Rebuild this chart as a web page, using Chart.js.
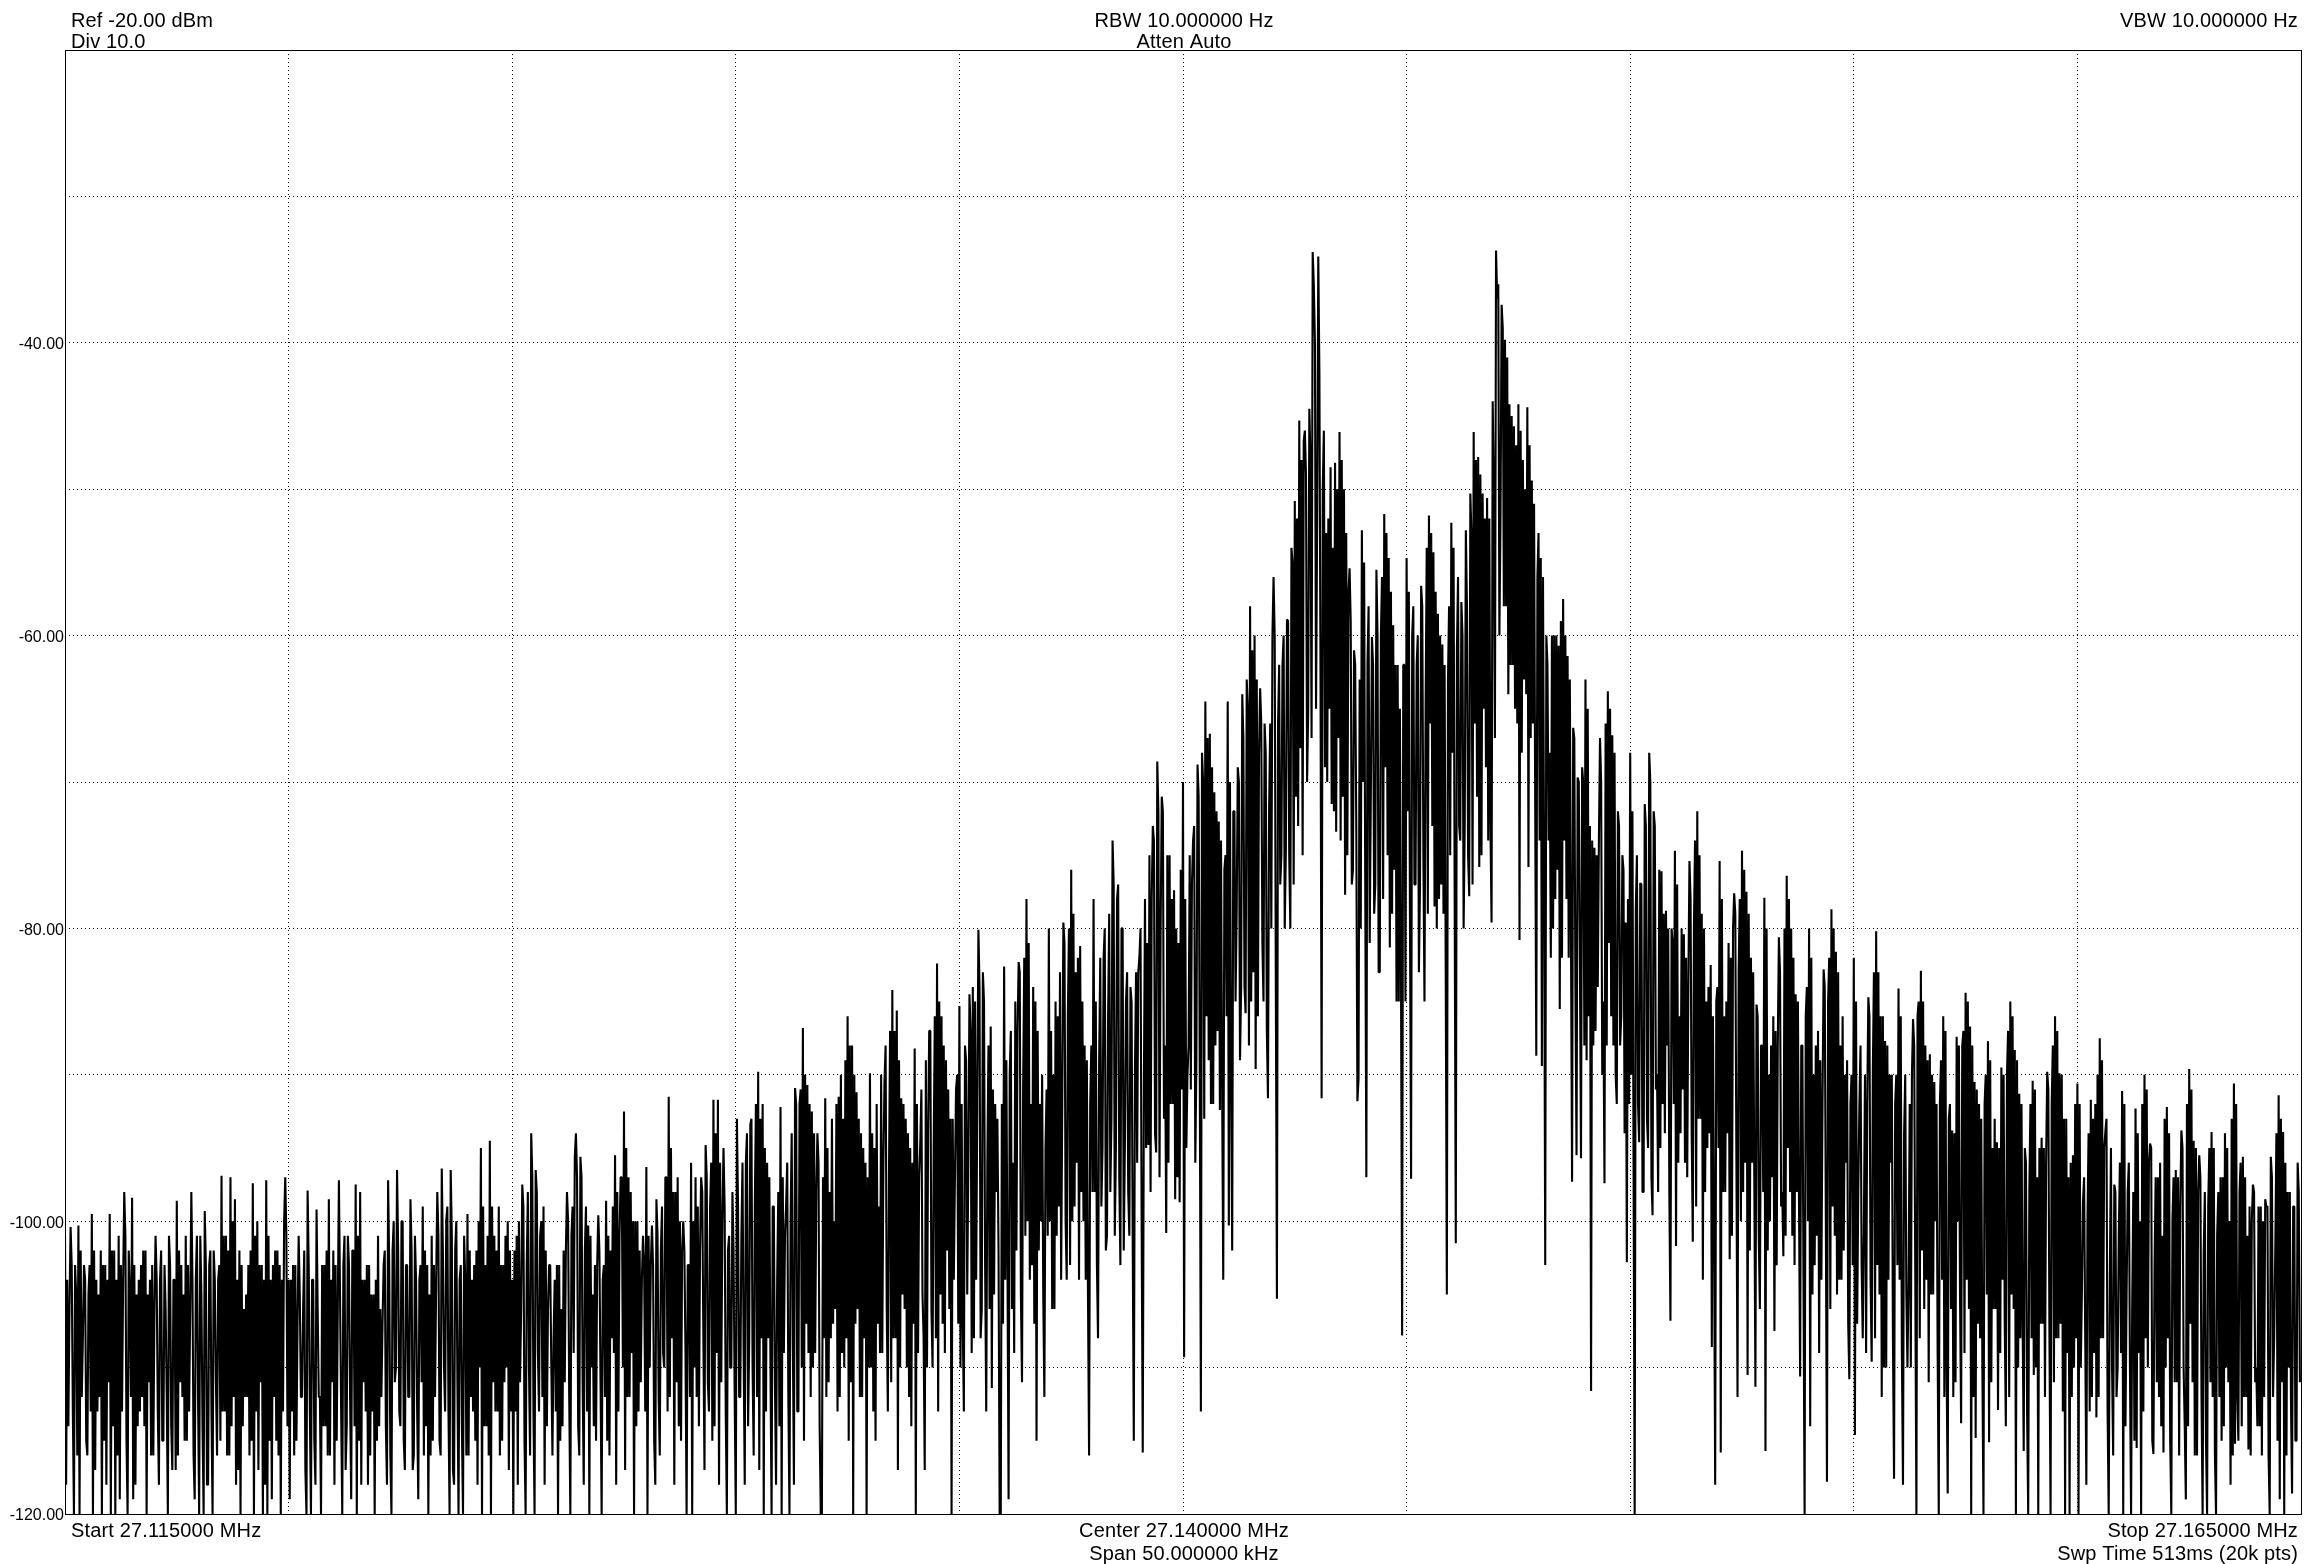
<!DOCTYPE html>
<html>
<head>
<meta charset="utf-8">
<title>Spectrum trace</title>
<script src="https://cdn.jsdelivr.net/npm/chart.js@4"></script>
<style>
  html, body { margin: 0; padding: 0; background: #fff; }
  canvas { display: block; }
</style>
</head>
<body>
<canvas id="Chart1" width="2322" height="1564"></canvas>
<script>
// trace, one list per horizontal grid division (dBm)
// peaks and dips that can be seen one by one
const div1 = [-101,-118,-106,-100.4,-120,-103,-100.3,-120,-108,-103,-116,-105,-99.5,-120,-104,-113,-102,-120,-103,-118,-99.5,-120,-102,-120,-101,-119,-104,-98,-120,-102,-98.4,-119,-105,-114,-103,-112,-102,-120,-104,-116,-106,-101,-118,-104,-115,-103,-120,-101,-117,-104,-98.6,-116,-103,-112,-101,-115,-106,-98,-119,-104,-120,-101,-120,-99.3,-118,-103,-120,-102,-116,-104,-96.9,-113,-101,-116,-97,-114,-98.5,-118,-102,-120,-106,-112,-103,-116,-97.4,-120,-100,-117,-103,-120,-97.2,-120,-104,-119,-102,-115,-103,-120,-100,-97]
const div2 = [-104,-119,-103,-116,-107,-101,-112,-106,-120,-97.9,-120,-104,-118,-99.2,-112,-120,-103,-114,-98.5,-116,-102,-118,-106,-97.2,-120,-103,-114,-101,-119,-102,-97.5,-120,-98,-118,-104,-113,-103,-116,-105,-120,-101,-114,-107,-103,-118,-97.2,-120,-102,-110,-96.5,-114,-100,-117,-103,-112,-98.5,-116,-101,-119,-104,-99,-116,-103,-120,-101,-115,-104,-98,-116,-96.4,-113,-100,-120,-96.5,-118,-102,-120,-104,-120,-101,-99.5,-116,-104,-113,-102,-118,-95,-120,-103,-114,-94.5,-120,-101,-113,-99,-116,-103,-111,-100,-117]
const div3 = [-104,-120,-101,-118,-106,-97.5,-120,-103,-116,-94,-120,-96.5,-113,-101,-99,-118,-106,-103,-116,-108,-103,-120,-106,-114,-102,-98,-120,-101,-95.6,-94,-116,-95.6,-118,-102,-100.3,-120,-105,-114,-103,-99.6,-120,-104,-98.6,-115,-102,-108,-95.5,-118,-101,-97,-92.5,-117,-97,-112,-100,-120,-100,-113,-104,-101,-96.3,-120,-103,-100.3,-118,-98.5,-116,-102,-110,-97,-91.5,-112,-98,-118,-97,-114,-102,-100,-120,-103,-96,-120,-97,-112,-102,-97,-117,-94.8,-113,-99,-91.7,-114,-91.7,-118,-100,-95,-120,-102,-110,-98]
const div4 = [-120,-93,-112,-101,-118,-96,-108,-93.4,-116,-99,-89.8,-117,-92,-120,-96,-108,-120,-99,-118,-104,-92.2,-120,-101,-98.9,-120,-100,-118,-90.9,-113,-92,-86.8,-115,-90.7,-109,-92.5,-110,-98,-94,-120,-120,-91.6,-112,-98,-108,-100,-106,-91.5,-112,-93,-110,-86,-115,-88,-120,-91.2,-106,-94,-112,-96,-120,-89.9,-110,-95,-115,-99,-109,-96,-90.5,-113,-97,-84.2,-108,-85.6,-117,-91.6,-105,-93,-110,-95,-114,-88.2,-120,-97,-94.7,-108,-117,-94,-87,-110,-95,-82.4,-113,-86,-107,-89,-102,-93,-120,-97,-91]
const div5 = [-85.3,-110,-113,-88,-96,-84.5,-84,-108,-92,-80.1,-106,-83,-113,-96,-86.7,-111.4,-92,-98,-120,-120,-82.6,-104,-119,-90,-96,-109,-87,-82.3,-111,-91,-78,-100,-92,-103,-85,-115,-92,-100,-112,-95,-80,-100,-90,-106,-86,-99,-92,-79.6,-104,-86,-76,-100,-83,-96,-81.2,-98,-88,-104,-116,-92,-78,-98,-108,-89,-95,-82,-101,-86,-93,-74,-95,-78,-103,-80,-95,-85,-101,-84,-115,-90,-83,-82,-115.8,-91,-81,-94.8,-78,-73,-95.3,-68.6,-80,-71,-88,-100.8,-75,-92,-77.4,-98.5,-81,-98.7]
const div6 = [-70,-109.3,-90,-88,-77,-74,-89,-68.8,-113,-68,-64.5,-86,-66.7,-92,-70.7,-88,-72.7,-92.4,-104,-76,-64.5,-100.3,-102,-72,-79,-69,-84,-64,-85.8,-63,-58,-85,-60,-89.6,-68,-63.6,-85,-66,-91.6,-72,-60,-56,-105.3,-66,-75,-62,-74.7,-58.9,-80,-54,-50.8,-71,-45.3,-67.7,-46.7,-46,-65,-44.5,-33.8,-36,-52,-34.1,-91.6,-50,-53,-70,-48.5,-71.5,-48.2,-73.4,-46.1,-74,-50,-77.7,-57,-55.4,-76,-61,-91.8,-90.3,-52.8,-70,-97,-62,-71,-60.1,-77,-55.5,-83,-60,-51.7,-69,-54.7,-81.3,-59.3,-76,-62,-85,-107.8,-62]
const div7 = [-54.7,-72,-97.1,-60,-77,-62,-77,-56.6,-85,-65,-51.8,-66,-54.3,-78.5,-58.5,-78,-60.6,-79,-105,-63,-52.3,-68,-101.5,-61,-74,-57.7,-73,-52.8,-77.8,-50.3,-46.1,-66,-47.8,-75.8,-50.3,-65,-50.6,-74,-79.6,-44,-33.7,-37,-52,-37.4,-39.8,-58,-44.2,-62,-45.7,-65,-44.2,-80.8,-48,-63,-44.4,-75.8,-49.4,-66,-88.7,-56,-54.7,-89.4,-103,-60,-68,-82,-60,-78,-60.7,-85.5,-57.5,-74,-61.4,-82,-97.3,-66.3,-95.5,-69.7,-95.7,-69,-63,-89,-73,-111.6,-74.5,-87,-74,-67,-85,-97.4,-63.8,-81,-66.8,-88,-92,-72,-86,-75,-79.6,-102.8]
const div8 = [-68,-90,-120,-78.7,-94.6,-76.9,-98,-71.5,-95,-68,-99.6,-72,-90,-98,-76.1,-92,-78.8,-88,-106.8,-80,-74.7,-101.7,-86,-94,-80.4,-96,-84,-75.4,-101.4,-80,-72,-93,-79,-104,-85,-95,-82.5,-108.6,-118,-85,-75.4,-115.8,-86,-98,-81,-102.6,-80,-77.6,-112,-83,-74.7,-98,-77.5,-110.5,-82,-96,-111.3,-85.2,-106,-88,-77.9,-115.7,-90,-100,-86,-107.5,-88,-80.6,-98,-102.4,-76.4,-95,-80,-101,-84.5,-98,-110.6,-88,-120,-86,-80,-114,-90,-103,-87,-109,-92,-82.8,-117.8,-85,-78.7,-99,-81.6,-105,-88,-104,-90,-96,-110.8,-92]
const div9 = [-82,-114.6,-98,-92.1,-108,-100.5,-92,-84.7,-109.6,-90,-80.2,-103,-86,-112,-87.7,-110,-90,-96,-117.6,-92,-84.1,-104,-118,-94,-110,-104,-90,-86.2,-120,-86,-82.9,-102,-88,-104,-88.6,-105,-90.5,-100,-120,-92,-86,-112,-118.6,-93,-93.8,-112,-87.4,-100,-113.8,-88,-84.4,-104,-86.7,-120,-90.5,-114.8,-92,-108,-120,-92,-87.7,-115.1,-95,-106,-94.6,-112.9,-89.5,-104,-114,-90,-85,-105,-88.3,-120,-91.3,-108,-115.7,-95,-120,-98,-90.4,-110.5,-97,-120,-94.3,-107,-96,-89.8,-120,-92,-86,-108,-89.9,-107,-93,-120,-97,-120,-95.5,-110]
const div10 = [-90.6,-120,-105,-98.7,-118,-100,-91.7,-112,-92,-113.4,-87.5,-108,-95,-93.9,-120,-104,-116,-97.5,-110,-101,-91.1,-120,-105,-98,-120,-106,-92.3,-115.5,-100,-120,-90,-108,-96,-94.7,-115.9,-103,-97,-112,-101,-115.8,-92.2,-108,-120,-100,-96.5,-111,-99,-93.8,-114,-119,-89.6,-107,-94.5,-116,-98,-95.5,-120,-102,-120,-99,-93.9,-112,-120,-101,-97,-115,-94,-110,-100,-118,-90.6,-115.2,-115,-98,-95.6,-112,-101,-115.6,-100,-97.5,-110,-114,-99,-116,-98.5,-99,-120,-95.6,-108,-102,-91.4,-119,-93.9,-120,-98,-110,-118.6,-99,-115,-96]

// samples inside the solid black body of the trace, top and bottom in turn
const body1 = [-104,-114,-103,-113,-105,-116,-102,-112,-104,-115,-103,-113,-102,-117,-105,-112,-103,-115,-104,-111,-102,-114,-104,-116,-103,-113,-101,-115,-105,-112,-103,-118,-104,-113,-102,-114,-105,-111,-103,-116,-104,-113,-102,-115,-106,-112,-103,-114,-104,-117,-102,-111,-105,-115,-103,-113,-104,-116,-101,-112,-105,-114,-103,-118,-102,-113,-104,-111,-103,-115,-101,-113,-102,-116,-100,-112,-104,-117,-103,-114,-105,-112,-102,-115,-101,-113,-103,-111,-104,-118,-101,-115,-103,-112,-102,-116,-104,-113,-101,-114]
const body2 = [-104,-113,-103,-115,-105,-112,-102,-117,-103,-113,-104,-115,-106,-112,-103,-114,-102,-116,-104,-111,-103,-115,-105,-113,-101,-117,-103,-112,-102,-114,-101,-115,-104,-111,-103,-118,-105,-113,-104,-115,-106,-112,-102,-114,-103,-116,-100,-111,-102,-113,-100,-115,-103,-112,-102,-117,-104,-113,-103,-111,-102,-114,-105,-116,-103,-112,-101,-115,-102,-110,-99,-113,-101,-117,-100,-111,-103,-114,-104,-116,-102,-112,-103,-115,-100,-110,-99,-114,-101,-116,-99,-111,-102,-113,-103,-115,-101,-110,-102,-113]
const body3 = [-102,-113,-100,-111,-99,-115,-98,-110,-97,-113,-98,-109,-100,-112,-102,-114,-103,-110,-104,-113,-103,-115,-102,-111,-100,-112,-99,-109,-97,-114,-97,-111,-99,-113,-101,-110,-103,-115,-102,-111,-103,-112,-101,-116,-99,-109,-98,-113,-97,-110,-95,-112,-98,-109,-100,-114,-102,-111,-103,-113,-101,-110,-103,-115,-101,-112,-99,-109,-97,-113,-95,-108,-98,-111,-100,-115,-102,-109,-103,-112,-100,-110,-99,-114,-98,-108,-97,-111,-96,-115,-94,-109,-96,-111,-99,-113,-101,-110,-102,-112]
const body4 = [-99,-112,-96,-109,-94,-114,-93,-110,-92,-112,-93,-108,-95,-113,-97,-110,-99,-111,-98,-114,-97,-109,-96,-112,-94,-108,-92,-113,-91,-110,-90,-107,-92,-112,-94,-109,-96,-114,-97,-108,-95,-111,-93,-107,-92,-113,-90,-109,-89,-108,-88,-111,-90,-107,-93,-112,-95,-108,-97,-110,-94,-113,-92,-107,-90,-109,-88,-106,-87,-111,-87,-108,-89,-110,-92,-106,-94,-112,-96,-107,-92,-109,-91,-105,-89,-110,-87,-106,-86,-108,-85,-105,-88,-109,-91,-106,-93,-104,-90,-107]
const body5 = [-92,-107,-89,-105,-87,-109,-85,-104,-84,-108,-85,-103,-88,-106,-91,-105,-93,-102,-92,-107,-89,-103,-87,-106,-85,-102,-83,-105,-82,-101,-81,-104,-84,-107,-87,-102,-90,-105,-91,-101,-87,-106,-85,-101,-83,-104,-81,-100,-80,-103,-79,-99,-82,-104,-85,-100,-89,-105,-88,-98,-85,-103,-82,-99,-80,-102,-79,-98,-77,-101,-77,-97,-80,-102,-83,-98,-85,-101,-83,-96,-80,-100,-78,-95,-75,-98,-74,-94,-72,-97,-72,-93,-75,-96,-78,-92,-80,-97,-76,-91]
const body6 = [-78,-95,-75,-91,-73,-96,-71,-90,-70,-93,-67,-89,-69,-92,-72,-87,-74,-91,-75,-86,-70,-90,-72,-85,-70,-89,-67,-84,-65,-88,-61,-83,-63,-86,-66,-81,-68,-87,-66,-80,-60,-83,-62,-77,-60,-80,-59,-75,-55,-77,-52,-73,-48,-75,-49,-70,-48,-67,-40,-65,-42,-63,-46,-69,-52,-65,-54,-72,-50,-67,-48,-71,-53,-75,-59,-77,-62,-73,-63,-80,-55,-77,-58,-81,-62,-79,-60,-83,-56,-78,-53,-75,-57,-79,-62,-85,-65,-83,-62,-85]
const body7 = [-57,-79,-58,-77,-60,-83,-58,-75,-54,-79,-53,-73,-57,-80,-60,-77,-62,-83,-58,-75,-54,-78,-56,-73,-60,-80,-58,-75,-53,-77,-48,-71,-49,-75,-52,-69,-52,-73,-50,-67,-36,-60,-39,-58,-41,-64,-45,-62,-47,-66,-46,-68,-50,-64,-47,-67,-51,-71,-53,-74,-56,-76,-62,-74,-60,-80,-60,-76,-59,-82,-60,-78,-63,-80,-67,-84,-70,-82,-70,-88,-65,-86,-74,-88,-75,-84,-70,-90,-66,-88,-65,-86,-68,-90,-73,-88,-76,-94,-78,-92]
const body8 = [-72,-96,-75,-92,-77,-98,-73,-93,-70,-97,-73,-91,-76,-95,-79,-94,-80,-98,-81,-92,-77,-96,-80,-91,-82,-97,-78,-94,-74,-99,-75,-93,-80,-98,-84,-94,-86,-100,-84,-95,-78,-98,-85,-94,-82,-101,-79,-96,-78,-100,-76,-96,-79,-102,-83,-97,-86,-101,-88,-98,-80,-102,-88,-97,-87,-103,-83,-99,-80,-101,-78,-98,-82,-103,-85,-99,-88,-104,-84,-100,-82,-105,-88,-101,-89,-104,-84,-100,-82,-106,-80,-101,-83,-104,-86,-102,-89,-107,-90,-103]
const body9 = [-85,-107,-88,-103,-90,-109,-86,-104,-83,-108,-83,-105,-86,-110,-88,-104,-90,-108,-90,-103,-86,-109,-90,-105,-92,-110,-88,-104,-85,-108,-85,-106,-89,-111,-90,-105,-92,-109,-89,-104,-87,-110,-92,-106,-94,-111,-88,-105,-87,-109,-85,-106,-88,-112,-91,-107,-93,-110,-90,-105,-89,-111,-93,-106,-95,-109,-90,-107,-87,-112,-86,-106,-89,-110,-92,-107,-96,-113,-92,-108,-91,-110,-95,-107,-95,-112,-91,-108,-88,-111,-87,-108,-90,-113,-93,-109,-96,-112,-92,-108]
const body10 = [-92,-110,-97,-108,-94,-113,-93,-109,-90,-112,-89,-108,-93,-113,-95,-110,-98,-112,-96,-109,-92,-114,-96,-110,-98,-115,-94,-109,-92,-113,-91,-110,-95,-115,-97,-111,-96,-114,-93,-110,-94,-115,-97,-111,-97,-116,-95,-110,-92,-114,-91,-111,-95,-116,-97,-112,-98,-115,-95,-111,-95,-116,-98,-112,-97,-114,-95,-111,-93,-116,-92,-112,-96,-114,-97,-112,-99,-116,-98,-111,-99,-114,-100,-112,-99,-116,-97,-112,-94,-115,-93,-111,-96,-116,-98,-112,-99,-115,-98,-111]

const divisions = [div1, div2, div3, div4, div5, div6, div7, div8, div9, div10]
const bodies = [body1, body2, body3, body4, body5, body6, body7, body8, body9, body10]

const freq_start = 27.115
const freq_stop = 27.165
const level_ticks = [-20, -30, -40, -50, -60, -70, -80, -90, -100, -110, -120]
const level_labels = [-40, -60, -80, -100, -120]

const top_left = ["Ref -20.00 dBm", "Div 10.0"]
const top_center = ["RBW 10.000000 Hz", "Atten Auto"]
const top_right = ["VBW 10.000000 Hz"]
const bottom_left = ["Start 27.115000 MHz"]
const bottom_center = ["Center 27.140000 MHz", "Span 50.000000 kHz"]
const bottom_right = ["Stop 27.165000 MHz", "Swp Time 513ms (20k pts)"]

const div_width = (freq_stop - freq_start) / divisions.length

// two samples from each list in turn, so the trace keeps swinging up and down
function weave (list, body) {
    let result = []
    for (let i = 0; i < list.length; i += 2) {
        result.push(...list.slice(i, i + 2), ...body.slice(i, i + 2))
    }
    return result
}

const points = divisions.flatMap((list, d) => {
    const woven = weave(list, bodies[d])
    return woven.map((y, i) => {
        return {x: freq_start + (d + i / woven.length) * div_width, y: y}
    })
})

const freq_ticks = divisions.map((_, d) => freq_start + d * div_width).concat([freq_stop])

const frameAndText = {
    id: "frameAndText",
    afterDraw(chart) {
        const ctx = chart.ctx
        const area = chart.chartArea
        const mid = (area.left + area.right) / 2 + 1

        ctx.save()
        ctx.strokeStyle = "#000"
        ctx.lineWidth = 1
        ctx.strokeRect(Math.floor(area.left) + 0.5, Math.floor(area.top) + 0.5,
            Math.round(area.right - area.left), Math.round(area.bottom - area.top))

        ctx.fillStyle = "#000"
        ctx.font = "20px 'Liberation Sans'"
        ctx.letterSpacing = "0.15px"
        ctx.textBaseline = "alphabetic"

        function rows (list, x, align, y, step) {
            ctx.textAlign = align
            list.forEach((t, i) => ctx.fillText(t, x, y + i * step))
        }

        rows(top_left, area.left + 6, "left", 27, 21)
        rows(top_center, mid, "center", 27, 21)
        rows(top_right, area.right - 3, "right", 27, 21)
        rows(bottom_left, area.left + 6, "left", 1537, 23)
        rows(bottom_center, mid, "center", 1537, 23)
        rows(bottom_right, area.right - 3, "right", 1537, 23)
        ctx.restore()
    }
}

const ex1 = document.getElementById("Chart1")

new Chart(ex1, {
    type: "line",
    data: {
        datasets: [
            {
                label: "Trace",
                data: points,
                borderColor: "#000",
                borderWidth: 2.1,
                borderJoinStyle: "bevel",
                pointRadius: 0,
                tension: 0
            }
        ]
    },
    options: {
        responsive: false,
        animation: false,
        parsing: false,
        normalized: true,
        layout: { padding: { top: 50, right: 21, left: 0, bottom: 0 } },
        plugins: {
            legend: { display: false },
            tooltip: { enabled: false }
        },
        scales: {
            x: {
                type: "linear",
                min: freq_start,
                max: freq_stop,
                afterBuildTicks: (scale) => {
                    scale.ticks = freq_ticks.map((v) => ({value: v}))
                },
                afterFit: (scale) => { scale.height = 50 },
                ticks: { display: false },
                border: { display: false, dash: [1, 3] },
                grid: { color: "#000", lineWidth: 1, drawTicks: false }
            },
            y: {
                type: "linear",
                min: -120,
                max: -20,
                afterBuildTicks: (scale) => {
                    scale.ticks = level_ticks.map((v) => ({value: v}))
                },
                afterFit: (scale) => { scale.width = 65 },
                ticks: {
                    padding: 1,
                    labelOffset: 2,
                    color: "#000",
                    font: { family: "'Liberation Sans'", size: 16 },
                    callback: (v) => level_labels.includes(v) ? v.toFixed(2) : ""
                },
                border: { display: false, dash: [1, 3] },
                grid: { color: "#000", lineWidth: 1, drawTicks: false }
            }
        }
    },
    plugins: [frameAndText]
})
</script>
</body>
</html>
